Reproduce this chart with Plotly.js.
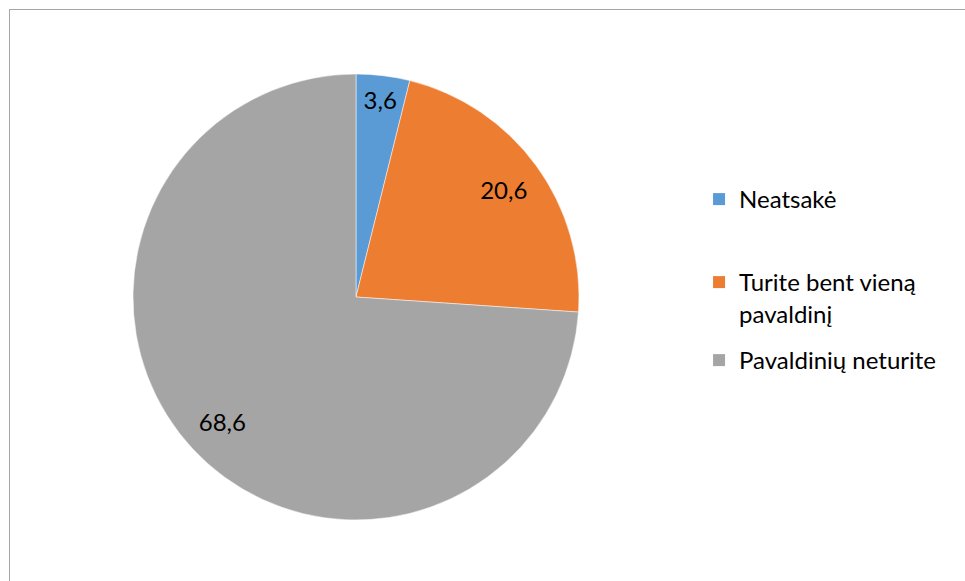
<!DOCTYPE html>
<html><head><meta charset="utf-8">
<script src="https://cdn.plot.ly/plotly-3.0.1.min.js"></script>
<style>
html,body{margin:0;padding:0;background:#fff;}
#wrap{position:relative;width:965px;height:581px;overflow:hidden;}
#chart{position:absolute;left:0;top:0;width:965px;height:581px;}
#frame{position:absolute;left:9px;top:9px;width:1000px;height:1000px;border:1px solid #a6a6a6;pointer-events:none;}
</style></head>
<body><div id="wrap"><div id="chart"></div><div id="frame"></div></div>
<script>
const categories = ["Neatsakė", "Turite bent vieną<br>pavaldinį", "Pavaldinių neturite"];
const values = [3.6, 20.6, 68.6];
const colors = ["#5b9bd5", "#ed7d31", "#a5a5a5"];

const dom = {x: [0.1378, 0.6], y: [0.105, 0.8726]};
const fontFam = "Lato, 'Open Sans', sans-serif";

const pie = {
  type: "pie",
  labels: categories,
  values: values,
  sort: false,
  direction: "clockwise",
  rotation: 0,
  marker: {colors: colors, line: {color: "#ffffff", width: 0.5}},
  textinfo: "none",
  hoverinfo: "none",
  showlegend: false,
  domain: dom
};

// transparent ring used only to place the value labels at ~0.82 of the radius
const labelRing = {
  type: "pie",
  labels: categories,
  values: values,
  sort: false,
  direction: "clockwise",
  rotation: 0,
  hole: 0.64,
  showlegend: false,
  marker: {colors: categories.map(() => "rgba(0,0,0,0)"), line: {width: 0}},
  texttemplate: "%{value:.1f}",
  textposition: "inside",
  insidetextorientation: "horizontal",
  textfont: {family: fontFam, size: 24, color: "#000000"},
  hoverinfo: "none",
  domain: dom
};

// legend entries (one legend box per category so the spacing can follow the original)
const legendIds = ["legend", "legend2", "legend3"];
const legendEntries = categories.map((c, i) => ({
  type: "scatter",
  mode: "markers",
  x: [null], y: [null],
  name: c,
  legend: legendIds[i],
  marker: {symbol: "square", size: 12, color: colors[i]},
  hoverinfo: "none",
  showlegend: true
}));

const legendTops = [177, 260, 338];
const legendBase = {
  xanchor: "left", yanchor: "top", valign: "top",
  font: {family: fontFam, size: 24, color: "#000000"},
  itemwidth: 30, bgcolor: "rgba(0,0,0,0)"
};

const layout = {
  width: 965, height: 581,
  margin: {l: 0, r: 0, t: 0, b: 0},
  separators: ",.",
  paper_bgcolor: "rgba(0,0,0,0)",
  plot_bgcolor: "rgba(0,0,0,0)",
  showlegend: true,
  xaxis: {visible: false, domain: [0.9, 1]},
  yaxis: {visible: false, domain: [0.9, 1]},
  legend: Object.assign({}, legendBase, {x: 0.7244, y: 1 - legendTops[0] / 581}),
  legend2: Object.assign({}, legendBase, {x: 0.7244, y: 1 - legendTops[1] / 581}),
  legend3: Object.assign({}, legendBase, {x: 0.7244, y: 1 - legendTops[2] / 581}),
  font: {family: fontFam}
};

Plotly.newPlot("chart", [pie, labelRing].concat(legendEntries), layout, {displayModeBar: false, staticPlot: true});
</script></body></html>
